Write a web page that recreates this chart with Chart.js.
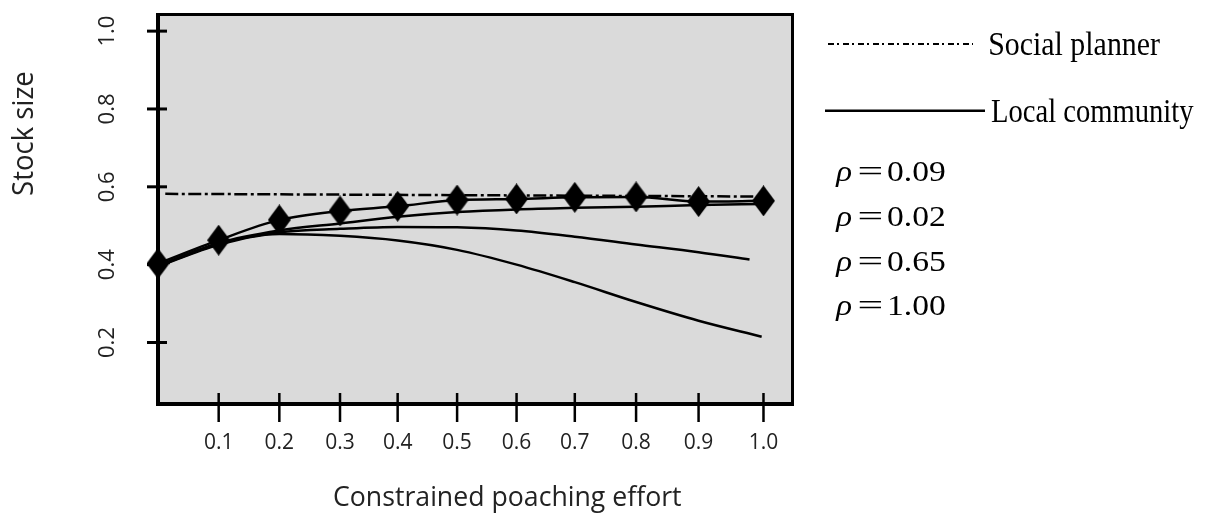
<!DOCTYPE html>
<html>
<head>
<meta charset="utf-8">
<script src="https://cdn.jsdelivr.net/npm/chart.js@4/dist/chart.umd.min.js"></script>
<style>
html,body{margin:0;padding:0;background:#ffffff;}
canvas{display:block;}
</style>
</head>
<body>
<canvas id="c" width="1206" height="516"></canvas>
<script>
// ---- data ----
const effort        = [0, 0.1, 0.2, 0.3, 0.395, 0.493, 0.591, 0.687, 0.788, 0.891, 0.998];
const effortRho065  = [0, 0.1, 0.2, 0.3, 0.395, 0.493, 0.591, 0.687, 0.788, 0.891, 0.975];
const effortRho100  = [0, 0.1, 0.2, 0.3, 0.395, 0.493, 0.591, 0.687, 0.788, 0.891, 0.995];
const stockRho009   = [0.403, 0.463, 0.515, 0.538, 0.550, 0.566, 0.569, 0.573, 0.574, 0.562, 0.564];
const stockRho002   = [0.398, 0.456, 0.488, 0.506, 0.523, 0.535, 0.542, 0.546, 0.549, 0.553, 0.556];
const stockRho065   = [0.396, 0.453, 0.483, 0.492, 0.497, 0.496, 0.488, 0.472, 0.452, 0.432, 0.413];
const stockRho100   = [0.395, 0.451, 0.479, 0.474, 0.462, 0.438, 0.400, 0.355, 0.304, 0.256, 0.215];
const plannerEffort = [0.012, 0.998];
const plannerStock  = [0.582, 0.575];

const xTickValues = [0.1, 0.2, 0.3, 0.395, 0.493, 0.591, 0.687, 0.788, 0.891, 0.998];
const xTickLabels = ["0.1", "0.2", "0.3", "0.4", "0.5", "0.6", "0.7", "0.8", "0.9", "1.0"];
const yTickValues = [0.2, 0.4, 0.6, 0.8, 1.0];
const yTickLabels = ["0.2", "0.4", "0.6", "0.8", "1.0"];

const legendLabels = ["Social planner", "Local community"];
const rhoValues    = ["0.09", "0.02", "0.65", "1.00"];
const xTitle = "Constrained poaching effort";
const yTitle = "Stock size";

// ---- helpers ----
function pairs(xs, ys) { return xs.map((x, i) => ({ x: x, y: ys[i] })); }

function diamond(w, h) {
  const c = document.createElement('canvas');
  c.width = w; c.height = h;
  const g = c.getContext('2d');
  g.fillStyle = '#000';
  g.beginPath();
  g.moveTo(w / 2, 0); g.lineTo(w, h / 2); g.lineTo(w / 2, h); g.lineTo(0, h / 2);
  g.closePath(); g.fill();
  return c;
}

function fitText(ctx, text, font, x, y, inkWidth, align, rot, color) {
  ctx.save();
  ctx.font = font;
  ctx.textAlign = 'left';
  ctx.textBaseline = 'alphabetic';
  const m = ctx.measureText(text);
  const L = m.actualBoundingBoxLeft, R = m.actualBoundingBoxRight;
  const sx = inkWidth ? inkWidth / (L + R) : 1;
  ctx.translate(x, y);
  if (rot) ctx.rotate(rot);
  ctx.scale(sx, 1);
  ctx.fillStyle = color || '#000';
  const ox = align === 'left' ? L : (L - R) / 2;
  ctx.fillText(text, ox, 0);
  ctx.restore();
  return sx;
}

const decor = {
  id: 'decor',
  beforeDraw(chart) {
    const { ctx, chartArea: a } = chart;
    ctx.save();
    ctx.fillStyle = '#dadada';
    ctx.fillRect(a.left, a.top, a.right - a.left, a.bottom - a.top);
    ctx.restore();
  },
  afterDraw(chart) {
    const { ctx, chartArea: a } = chart;
    const xs = chart.scales.x, ys = chart.scales.y;
    ctx.save();
    ctx.strokeStyle = '#000';
    ctx.lineCap = 'butt';
    // frame
    ctx.lineWidth = 3;
    ctx.beginPath();
    ctx.moveTo(a.left, a.top + 0.5); ctx.lineTo(a.right + 0.5, a.top + 0.5);
    ctx.lineTo(a.right + 0.5, a.bottom);
    ctx.stroke();
    ctx.lineWidth = 4;
    ctx.beginPath();
    ctx.moveTo(a.left, a.top - 1); ctx.lineTo(a.left, a.bottom); ctx.lineTo(a.right + 2, a.bottom);
    ctx.stroke();
    // y tick marks crossing the axis
    ctx.lineWidth = 3;
    ys.ticks.forEach(t => {
      const py = ys.getPixelForValue(t.value);
      ctx.beginPath(); ctx.moveTo(a.left - 11, py); ctx.lineTo(a.left + 9, py); ctx.stroke();
    });
    // x tick marks crossing the axis
    ctx.lineWidth = 2.5;
    xs.ticks.forEach(t => {
      const px = xs.getPixelForValue(t.value);
      ctx.beginPath(); ctx.moveTo(px, a.bottom - 11); ctx.lineTo(px, a.bottom + 18); ctx.stroke();
    });
    ctx.restore();

    // axis titles
    fitText(ctx, xTitle, '27px "Open Sans"', 507.5, 506, 347, 'center', 0, '#222');
    fitText(ctx, yTitle, '30px "Open Sans"', 33, 133.5, 123, 'center', -Math.PI / 2, '#222');

    // legend samples
    ctx.save();
    ctx.strokeStyle = '#000';
    ctx.lineWidth = 2;
    ctx.setLineDash([6, 3, 2, 4]);
    ctx.beginPath(); ctx.moveTo(828, 44); ctx.lineTo(973, 44); ctx.stroke();
    ctx.setLineDash([]);
    ctx.lineWidth = 2.5;
    ctx.beginPath(); ctx.moveTo(825, 110.7); ctx.lineTo(985, 110.7); ctx.stroke();
    ctx.restore();
    fitText(ctx, legendLabels[0], '33px "Liberation Serif"', 990, 55, 170, 'left', 0, '#000');
    fitText(ctx, legendLabels[1], '33px "Liberation Serif"', 991, 121.5, 203, 'left', 0, '#000');

    // rho labels
    const base = [180.7, 225.7, 270.7, 315];
    ctx.save();
    ctx.font = '29px "Liberation Serif"';
    const m = ctx.measureText('0.09');
    const numSx = 57 / (m.actualBoundingBoxLeft + m.actualBoundingBoxRight);
    ctx.restore();
    rhoValues.forEach((v, i) => {
      const b = base[i];
      fitText(ctx, '\u03C1', 'italic 29px "Liberation Serif"', 835, b, 17, 'left', 0, '#000');
      fitText(ctx, '=', '29px "Liberation Serif"', 870, b, 22, 'center', 0, '#000');
      ctx.save();
      ctx.font = '29px "Liberation Serif"';
      ctx.textAlign = 'left';
      ctx.textBaseline = 'alphabetic';
      ctx.fillStyle = '#000';
      ctx.translate(887, b);
      ctx.scale(numSx, 1);
      ctx.fillText(v, 0, 0);
      ctx.restore();
    });
  }
};

function build() {
  const lineCommon = {
    borderColor: '#000',
    borderWidth: 2.5,
    pointRadius: 0,
    pointHoverRadius: 0,
    fill: false,
    cubicInterpolationMode: 'monotone',
    clip: false
  };
  new Chart(document.getElementById('c'), {
    type: 'line',
    data: {
      datasets: [
        Object.assign({}, lineCommon, {
          label: 'rho = 0.09',
          data: pairs(effort, stockRho009),
          pointStyle: diamond(23, 31),
          pointRadius: 11,
          pointBackgroundColor: '#000',
          pointBorderColor: '#000'
        }),
        Object.assign({}, lineCommon, { label: 'rho = 0.02', data: pairs(effort, stockRho002) }),
        Object.assign({}, lineCommon, { label: 'rho = 0.65', data: pairs(effortRho065, stockRho065) }),
        Object.assign({}, lineCommon, { label: 'rho = 1.00', data: pairs(effortRho100, stockRho100) }),
        Object.assign({}, lineCommon, {
          label: 'Social planner',
          data: pairs(plannerEffort, plannerStock),
          borderDash: [13, 3.5, 3, 3.5],
          borderWidth: 2.5,
          cubicInterpolationMode: 'default',
          tension: 0
        })
      ]
    },
    options: {
      responsive: false,
      animation: false,
      events: [],
      layout: { autoPadding: false, padding: { left: 0, top: 14, right: 414, bottom: 0 } },
      plugins: { legend: { display: false }, tooltip: { enabled: false }, title: { display: false } },
      scales: {
        x: {
          type: 'linear',
          min: 0, max: 1.045,
          afterBuildTicks: s => { s.ticks = xTickValues.map(v => ({ value: v })); },
          afterFit: s => { s.height = 112; s.paddingLeft = 0; s.paddingRight = 0; },
          grid: { display: false, drawTicks: false },
          border: { display: false },
          ticks: {
            autoSkip: false, maxRotation: 0, minRotation: 0,
            padding: 26,
            color: '#222',
            font: { family: '"Open Sans"', size: 21 },
            callback: (v, i) => xTickLabels[i]
          }
        },
        y: {
          type: 'linear',
          min: 0.042, max: 1.044,
          afterBuildTicks: s => { s.ticks = yTickValues.map(v => ({ value: v })); },
          afterFit: s => { s.width = 158; s.paddingTop = 0; s.paddingBottom = 0; },
          grid: { display: false, drawTicks: false },
          border: { display: false },
          ticks: {
            autoSkip: false, minRotation: 90, maxRotation: 90,
            crossAlign: 'center',
            padding: 35,
            color: '#222',
            font: { family: '"Open Sans"', size: 22 },
            callback: (v, i) => yTickLabels[i]
          }
        }
      }
    },
    plugins: [decor]
  });
}

const fontLoads = [
  '21px "Open Sans"', '27px "Open Sans"', '29px "Liberation Serif"', 'italic 29px "Liberation Serif"'
].map(f => document.fonts.load(f).catch(() => null));
Promise.all(fontLoads).then(build, build);
</script>
</body>
</html>
